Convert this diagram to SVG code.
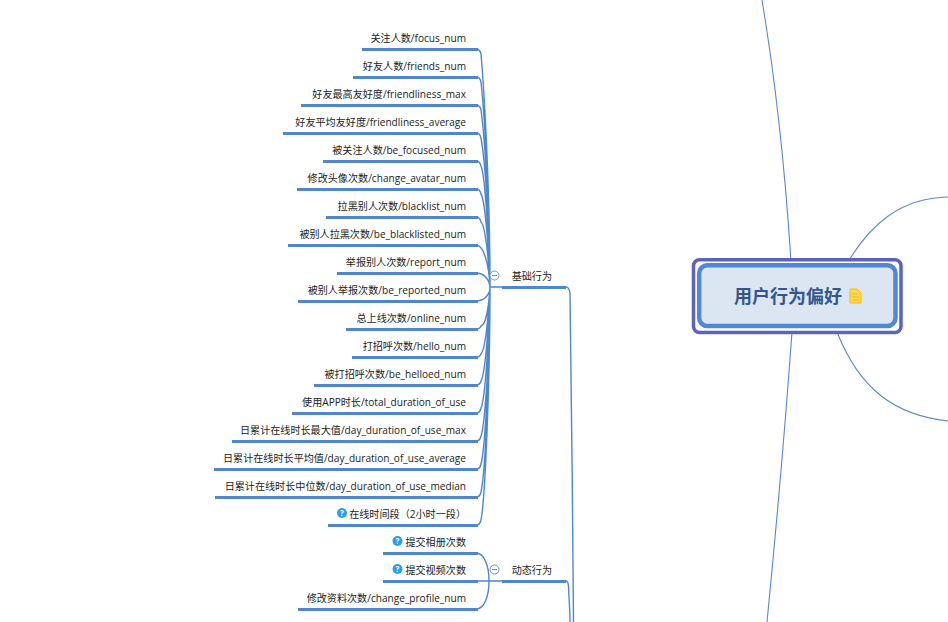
<svg xmlns="http://www.w3.org/2000/svg" width="948" height="622" viewBox="0 0 948 622">
<style>
text{font-family:"Open Sans","Noto Sans CJK SC",sans-serif;font-size:10.1px;fill:#222;text-anchor:end}
.b{stroke:#5087cc;stroke-width:3;fill:none}
.t{stroke:#5087cc;stroke-width:1.4;fill:none}
.h{stroke:#5a88c8;stroke-width:1.1;fill:none}
.q{fill:#2a9df0}
.qt{font-size:8px;font-weight:700;fill:#fff;text-anchor:middle}
.c{fill:#fff;stroke:#6a98d4;stroke-width:1}
.m{stroke:#6a98d4;stroke-width:1}
</style>
<rect width="948" height="622" fill="#fff"/>
<g id="connectors">
<path class="h" d="M762 0Q782 120 791 262M792 332Q782 470 767 622M848 262C870 225 900 198 948 197M837 332C860 390 895 415 948 421"/>
<path class="t" d="M490 287C490 200 485 100 481 54Q480 49 476 49M490 287C490 210 485 120 481 82Q480 77 476 77M490 287C490 220 485 140 481 110Q480 105 476 105M490 287C490 230 485 160 481 138Q480 133 476 133M490 287C489 240 485 175 481 166Q480 161 476 161M490 287C489 250 485 200 481 194Q480 189 476 189M490 287C489 260 485 225 481 222Q480 217 476 217M490 287C489 265 484 245 476 245M490 287C489 279 484 273 476 273M490 287C490 295 484 301 476 301M490 287C489 305 486 325 481 326Q480 329 476 329M490 287C489 315 485 350 481 354Q480 357 476 357M490 287C489 325 485 375 481 381Q480 385 476 385M490 287C489 340 485 400 481 408Q480 413 476 413M490 287C490 350 485 425 481 436Q480 441 476 441M490 287C490 360 485 450 481 464Q480 469 476 469M490 287C490 375 485 475 481 492Q480 497 476 497M490 287C490 385 485 500 481 520Q480 525 476 525"/>
<path class="t" d="M490 287H503M566 287Q569 287 570 293C571 380 573 520 573.500 622M478 581H503M566 581Q568 581 568.500 586C569 600 570 610 570 622"/>
<path class="t" d="M476 553C484 553 489 565 489 581C489 597 484 609 476 609"/>
</g>
<g id="node-root">
<rect x="693.500" y="259.700" width="207.500" height="72.800" rx="6" fill="#fff" stroke="#5b63bd" stroke-width="3.500"/>
<rect x="699.200" y="265.200" width="196.300" height="60.800" rx="8" fill="#dce6f2" stroke="#4f88d4" stroke-width="4.500"/>
<text x="842" y="303" style="font-size:18px;font-weight:700;fill:#33568e;font-family:'Noto Sans CJK SC',sans-serif">用户行为偏好</text>
<path d="M850 289H857L861 293V303H850Z" fill="#ffd94d" stroke="#eebb22"/>
<path d="M852 294H857M852 297H859M852 300H859" stroke="#e8b020" stroke-width=".8"/>
</g>
<g id="node-basic">
<path class="b" d="M502 287.500H566"/>
<text x="552" y="280">基础行为</text>
<circle class="c" cx="494.500" cy="275.500" r="4.500"/><path class="m" d="M492 275.500H497"/>
</g>
<g id="node-dynamic">
<path class="b" d="M502 581.500H566"/>
<text x="552" y="574">动态行为</text>
<circle class="c" cx="494.500" cy="569.500" r="4.500"/><path class="m" d="M492 569.500H497"/>
</g>
<g id="leaves">
<g id="n1"><path class="b" d="M362 49.500H478"/><text x="466" y="42">关注人数/focus_num</text></g>
<g id="n2"><path class="b" d="M353 77.500H478"/><text x="466" y="70">好友人数/friends_num</text></g>
<g id="n3"><path class="b" d="M301 105.500H478"/><text x="466" y="98">好友最高友好度/friendliness_max</text></g>
<g id="n4"><path class="b" d="M283 133.500H478"/><text x="466" y="126">好友平均友好度/friendliness_average</text></g>
<g id="n5"><path class="b" d="M323 161.500H478"/><text x="466" y="154">被关注人数/be_focused_num</text></g>
<g id="n6"><path class="b" d="M297 189.500H478"/><text x="466" y="182">修改头像次数/change_avatar_num</text></g>
<g id="n7"><path class="b" d="M326 217.500H478"/><text x="466" y="210">拉黑别人次数/blacklist_num</text></g>
<g id="n8"><path class="b" d="M288 245.500H478"/><text x="466" y="238">被别人拉黑次数/be_blacklisted_num</text></g>
<g id="n9"><path class="b" d="M337 273.500H478"/><text x="466" y="266">举报别人次数/report_num</text></g>
<g id="n10"><path class="b" d="M298 301.500H478"/><text x="466" y="294">被别人举报次数/be_reported_num</text></g>
<g id="n11"><path class="b" d="M346 329.500H478"/><text x="466" y="322">总上线次数/online_num</text></g>
<g id="n12"><path class="b" d="M352 357.500H478"/><text x="466" y="350">打招呼次数/hello_num</text></g>
<g id="n13"><path class="b" d="M314 385.500H478"/><text x="466" y="378">被打招呼次数/be_helloed_num</text></g>
<g id="n14"><path class="b" d="M292 413.500H478"/><text x="466" y="406">使用APP时长/total_duration_of_use</text></g>
<g id="n15"><path class="b" d="M232 441.500H478"/><text x="466" y="434">日累计在线时长最大值/day_duration_of_use_max</text></g>
<g id="n16"><path class="b" d="M214 469.500H478"/><text x="466" y="462">日累计在线时长平均值/day_duration_of_use_average</text></g>
<g id="n17"><path class="b" d="M215 497.500H478"/><text x="466" y="490">日累计在线时长中位数/day_duration_of_use_median</text></g>
<g id="n18"><path class="b" d="M328 525.500H478"/><circle class="q" cx="342" cy="513" r="5"/><text class="qt" x="342" y="516">?</text><text x="466" y="518">在线时间段（2小时一段）</text></g>
<g id="n19"><path class="b" d="M383 553.500H478"/><circle class="q" cx="397.500" cy="541" r="5"/><text class="qt" x="397.500" y="544">?</text><text x="466" y="546">提交相册次数</text></g>
<g id="n20"><path class="b" d="M383 581.500H478"/><circle class="q" cx="397.500" cy="569" r="5"/><text class="qt" x="397.500" y="572">?</text><text x="466" y="574">提交视频次数</text></g>
<g id="n21"><path class="b" d="M298 609.500H478"/><text x="466" y="602">修改资料次数/change_profile_num</text></g>
</g>
</svg>
